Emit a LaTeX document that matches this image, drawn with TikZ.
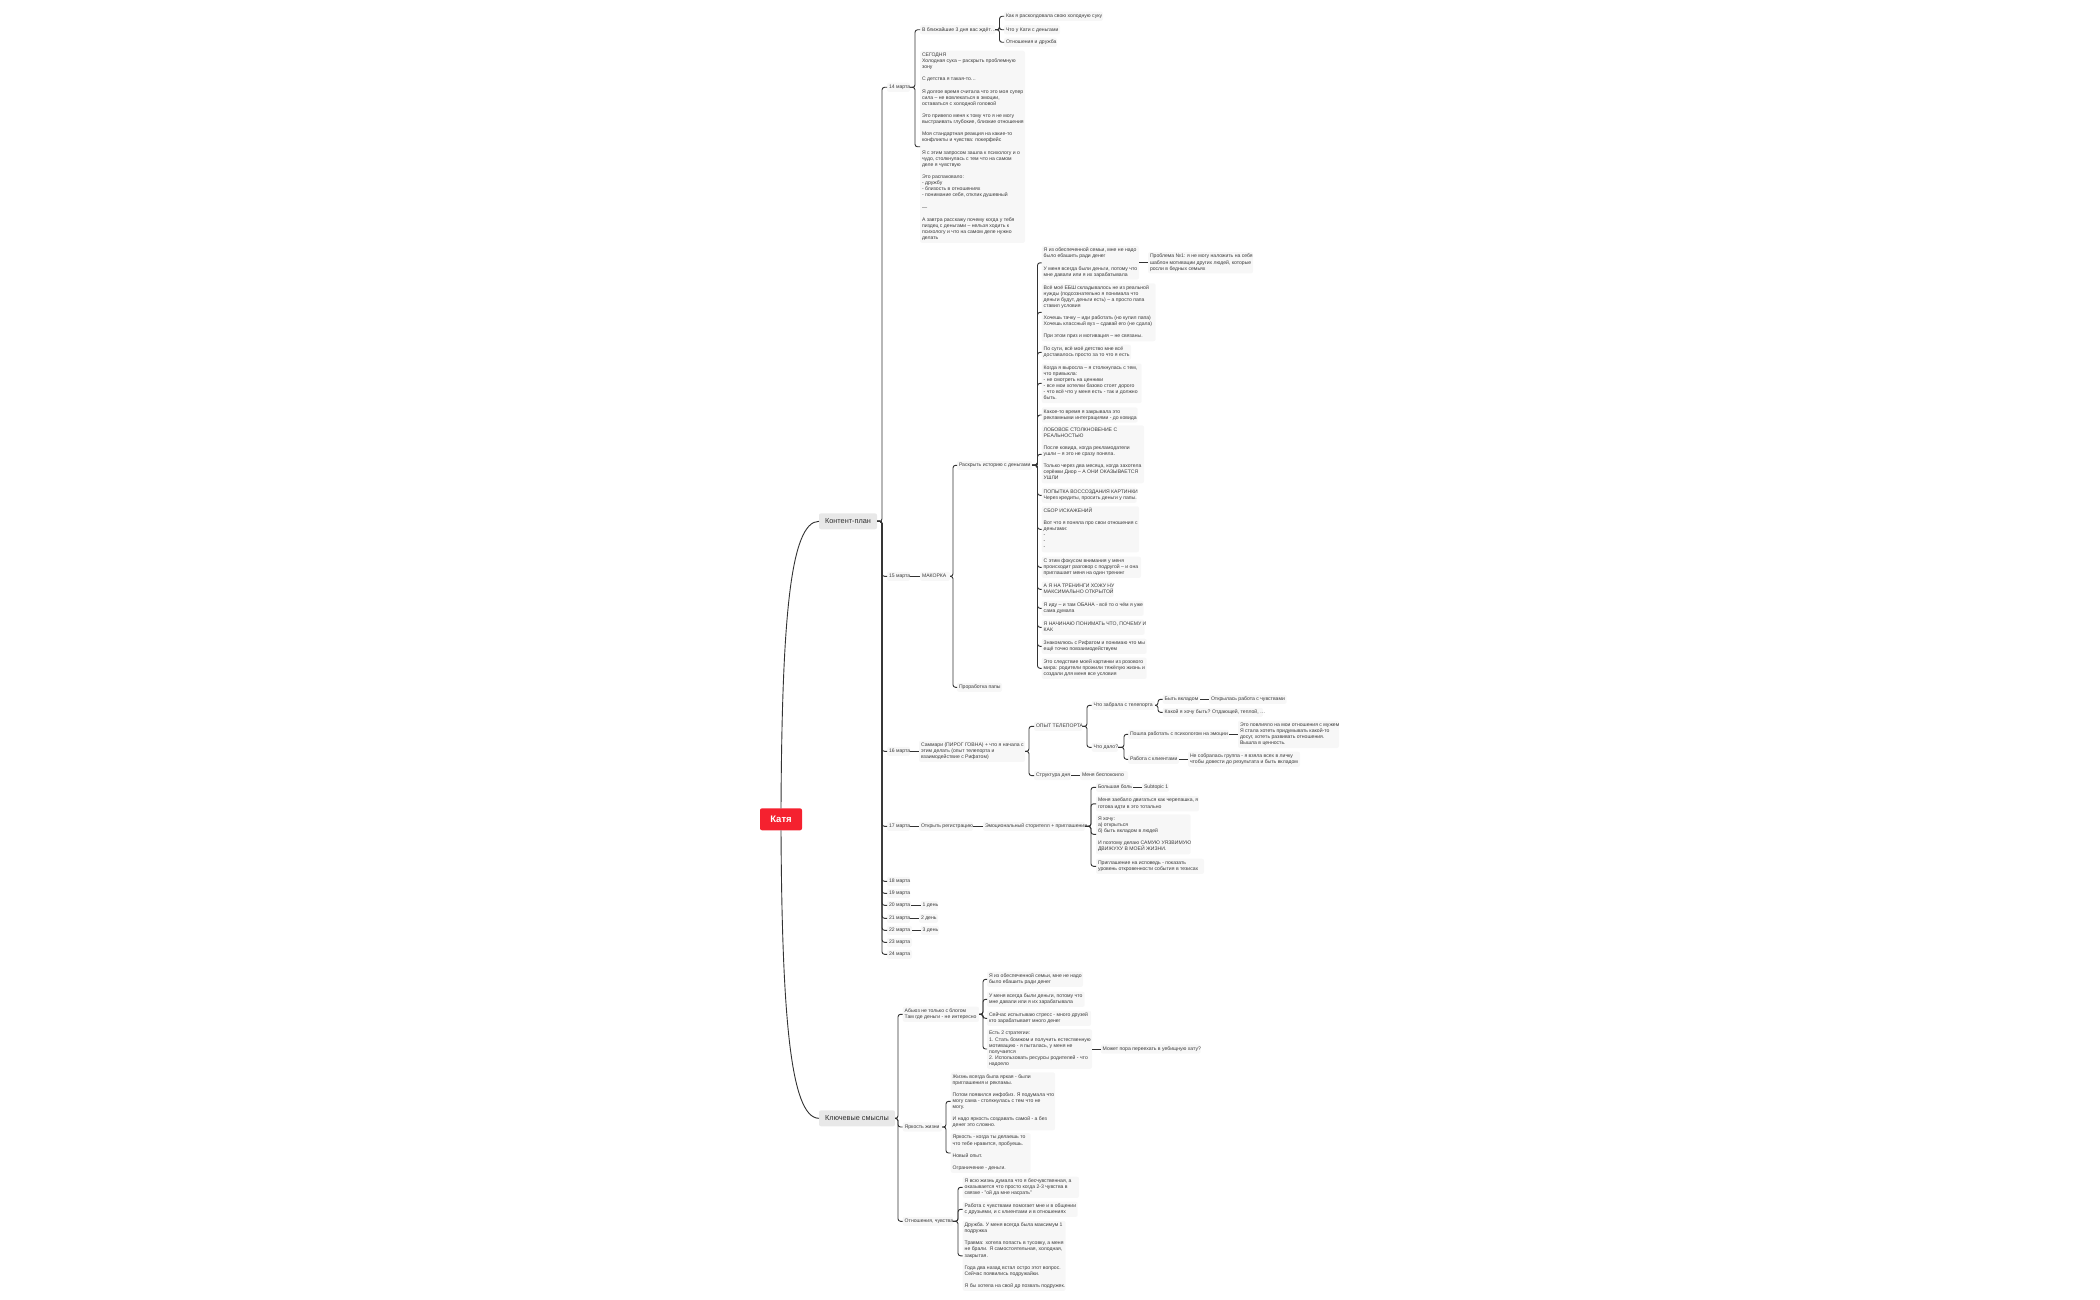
\documentclass[tikz,border=0pt]{standalone}
\usepackage{fontspec}
\setmainfont{Liberation Sans}
\definecolor{boxc}{HTML}{F7F7F7}
\definecolor{topc}{HTML}{E8E8E8}
\definecolor{rootc}{HTML}{F5212F}
\definecolor{linkc}{HTML}{333333}
\definecolor{textc}{HTML}{3A3A3A}
\tikzset{
 nbox/.style={rectangle,rounded corners=2pt,fill=boxc,text=textc,inner xsep=2pt,inner ysep=1.5pt,outer sep=0pt,font=\fontsize{5.1}{6.1}\selectfont},
 topbox/.style={rectangle,rounded corners=2pt,fill=topc,text=textc!80!black,inner sep=0pt,outer sep=0pt,font=\fontsize{7.3}{9}\selectfont,minimum height=16pt,align=center},
 rootbox/.style={rectangle,rounded corners=2pt,fill=rootc,text=white,inner sep=0pt,outer sep=0pt,font=\fontsize{9.5}{11}\selectfont\bfseries,minimum height=22pt,minimum width=42pt},
 link/.style={draw=linkc,line width=.9pt,rounded corners=2.5pt},
 curve/.style={draw=linkc,line width=.9pt}
}
\newcommand{\nd}[5]{\node[nbox,anchor=west] (#1) at (#2,#4) {\makebox[\dimexpr #3pt-#2pt-4pt\relax][l]{\begin{tabular}{@{}l@{}}#5\end{tabular}}};}
\newcommand{\br}[3]{\foreach \cc in {#3} {\draw[link] (#1.east) -- ++(#2,0) |- (\cc.west);}}
\newcommand{\st}[2]{\draw[link] (#1.east) -- (#2.west);}
\begin{document}
\begin{tikzpicture}[x=1pt,y=-1pt]
\useasboundingbox (0,0) rectangle (2100,1300);
\begin{scope}[yshift=-1.3pt]
% root and main
\node[rootbox] (root) at (781,818) {Катя};
\node[topbox,anchor=west,minimum width=58pt] (plan) at (819,520) {Контент-план};
\node[topbox,anchor=west,minimum width=76pt] (sense) at (819,1117) {Ключевые смыслы};
% dates
\nd{d14}{887}{910}{86}{14 марта}
\nd{d15}{887}{910}{575}{15 марта}
\nd{d16}{887}{910}{750}{16 марта}
\nd{d17}{887}{910}{825}{17 марта}
\nd{d18}{887}{910}{880}{18 марта}
\nd{d19}{887}{910}{892}{19 марта}
\nd{d20}{887}{911}{904}{20 марта}
\nd{d21}{887}{910}{917}{21 марта}
\nd{d22}{887}{912}{929}{22 марта}
\nd{d23}{887}{912}{941}{23 марта}
\nd{d24}{887}{912}{953}{24 марта}
% 14
\nd{soon}{920}{995}{28.5}{В ближайшие 3 дня вас ждёт…}
\nd{soona}{1004}{1103}{15}{Как я расколдовала свою холодную суку}
\nd{soonb}{1004}{1060}{28.5}{Что у Кати с деньгами}
\nd{soonc}{1004}{1057}{41}{Отношения и дружба}
\nd{today}{920}{1025}{145.5}{СЕГОДНЯ\\Холодная сука – раскрыть проблемную\\зону\\ \\С детства я такая-то…\\ \\Я долгое время считала что это моя супер\\сила – не вовлекаться в эмоции,\\оставаться с холодной головой\\ \\Это привело меня к тому что я не могу\\выстраивать глубокие, близкие отношения\\ \\Моя стандартная реакция на какие-то\\конфликты и чувства: покерфейс\\ \\Я с этим запросом зашла к психологу и о\\чудо, столкнулась с тем что на самом\\деле я чувствую\\ \\Это распаковало:\\- дружбу\\- близость в отношениях\\- понимание себя, отклик душевный\\ \\—\\ \\А завтра расскажу почему когда у тебя\\пиздец с деньгами – нельзя ходить к\\психологу и что на самом деле нужно\\делать}
% 15
\nd{hook}{920}{950}{575}{МАКОРКА}
\nd{money}{957}{1032}{464}{Раскрыть историю с деньгами}
\nd{papa}{957}{1002}{686}{Проработка папы}
\nd{m1}{1041.7}{1139}{261.5}{Я из обеспеченной семьи, мне не надо\\было ебашить ради денег\\ \\У меня всегда были деньги, потому что\\мне давали или я их зарабатывала}
\nd{m1a}{1148}{1253}{261.5}{Проблема №1: я не могу наложить на себя\\шаблон мотивации других людей, которые\\росли в бедных семьях}
\nd{m2}{1041.7}{1155.7}{311}{Всё моё ЕБШ складывалось не из реальной\\нужды (подсознательно я понимала что\\деньги будут, деньги есть) – а просто папа\\ставил условия\\ \\Хочешь тачку – иди работать (но купил папа)\\Хочешь классный вуз – сдавай его (не сдала)\\ \\При этом приз и мотивация – не связаны.}
\nd{m3}{1041.7}{1131}{351}{По сути, всё моё детство мне всё\\доставалось просто за то что я есть}
\nd{m4}{1041.7}{1141.7}{382}{Когда я выросла – я столкнулась с тем,\\что привыкла:\\- не смотреть на ценники\\- все мои хотелки базово стоят дорого\\- что всё что у меня есть - так и должно\\быть.}
\nd{m5}{1041.7}{1137.7}{413.7}{Какое-то время я закрывала это\\рекламными интеграциями - до ковида}
\nd{m6}{1041.7}{1144}{453}{ЛОБОВОЕ СТОЛКНОВЕНИЕ С\\РЕАЛЬНОСТЬЮ\\ \\После ковида, когда рекламодатели\\ушли – я это не сразу поняла.\\ \\Только через два месяца, когда захотела\\серёжки Диор – А ОНИ ОКАЗЫВАЕТСЯ\\УШЛИ}
\nd{m7}{1041.7}{1136.7}{494}{ПОПЫТКА ВОССОЗДАНИЯ КАРТИНКИ\\Через кредиты, просить деньги у папы.}
\nd{m8}{1041.7}{1139}{528}{СБОР ИСКАЖЕНИЙ\\ \\Вот что я поняла про свои отношения с\\деньгами:\\-\\-\\-}
\nd{m9}{1041.7}{1141}{566}{С этим фокусом внимания у меня\\происходит разговор с подругой – и она\\приглашает меня на один тренинг}
\nd{m10}{1041.7}{1113.7}{588}{А Я НА ТРЕНИНГИ ХОЖУ НУ\\МАКСИМАЛЬНО ОТКРЫТОЙ}
\nd{m11}{1041.7}{1143.7}{607}{Я иду – и там ОБАНА - всё то о чём я уже\\сама думала}
\nd{m12}{1041.7}{1144.7}{626}{Я НАЧИНАЮ ПОНИМАТЬ ЧТО, ПОЧЕМУ И\\КАК}
\nd{m13}{1041.7}{1146.7}{645}{Знакомлюсь с Рифатом и понимаю что мы\\ещё точно повзаимодействуем}
\nd{m14}{1041.7}{1146.7}{667}{Это следствие моей картинки из розового\\мира: родители прожили тяжёлую жизнь и\\создали для меня все условия}
% 16
\nd{sum}{919}{1025}{750}{Саммари (ПИРОГ ГОВНА) + что я начала с\\этим делать (опыт телепорта и\\взаимодействие с Рифатом)}
\nd{tele}{1034}{1082.3}{725}{ОПЫТ ТЕЛЕПОРТА}
\nd{day}{1034}{1071}{774.3}{Структура дня}
\nd{worry}{1080}{1128}{774.3}{Меня беспокоило}
\nd{took}{1091.7}{1155}{704}{Что забрала с телепорта}
\nd{gave}{1091.7}{1118}{746}{Что дало?}
\nd{inv}{1162.7}{1200}{698}{Быть вкладом}
\nd{open}{1209}{1286.7}{698}{Открылась работа с чувствами}
\nd{who}{1162.7}{1263}{711}{Какой я хочу быть? Отдающей, теплой, …}
\nd{psy}{1128}{1229}{733}{Пошла работать с психологом на эмоции}
\nd{cli}{1128}{1179}{758}{Работа с клиентами}
\nd{psya}{1238}{1339}{733}{Это повлияло на мои отношения с мужем\\Я стала хотеть придумывать какой-то\\досуг, хотеть развивать отношения.\\Вышла в ценность.}
\nd{clia}{1188}{1300}{758}{Не собралась группа - я взяла всех в личку\\чтобы довести до результата и быть вкладом}
% 17
\nd{reg}{919}{973}{825}{Открыть регистрацию}
\nd{story}{983}{1085}{825}{Эмоциональный сторителл + приглашения}
\nd{pain}{1096}{1133}{786}{Большая боль}
\nd{subt}{1142}{1169}{786}{Subtopic 1}
\nd{turt}{1096}{1199}{802.5}{Меня заебало двигаться как черепашка, я\\готова идти в это тотально}
\nd{want}{1096}{1190.7}{833}{Я хочу:\\а) открыться\\б) быть вкладом в людей\\ \\И поэтому делаю САМУЮ УЯЗВИМУЮ\\ДВИЖУХУ В МОЕЙ ЖИЗНИ.}
\nd{conf}{1096}{1204}{865}{Приглашение на исповедь - показать\\уровень откровенности события в тезисах}
\nd{d1}{920.7}{938}{904}{1 день}
\nd{d2}{919}{938}{917}{2 день}
\nd{d3}{920.7}{939}{929}{3 день}
% meanings
\nd{ab}{902.7}{979}{1013}{Абьюз не только с блогом\\Там где деньги - не интересно}
\nd{br}{902.7}{942}{1125.7}{Яркость жизни}
\nd{rel}{902.7}{953}{1220}{Отношения, чувства}
\nd{aba}{987}{1083}{978}{Я из обеспеченной семьи, мне не надо\\было ебашить ради денег}
\nd{abb}{987}{1084.7}{998}{У меня всегда были деньги, потому что\\мне давали или я их зарабатывала}
\nd{abc}{987}{1091}{1017}{Сейчас испытываю стресс - много друзей\\кто зарабатывает много денег}
\nd{abd}{987}{1092}{1047.7}{Есть 2 стратегии:\\1. Стать бомжом и получить естественную\\мотивацию - я пыталась, у меня не\\получается\\2. Использовать ресурсы родителей - что\\надоело}
\nd{abe}{1100.7}{1200.7}{1047.7}{Может пора переехать в уебищную хату?}
\nd{bra}{950.7}{1055}{1100}{Жизнь всегда была яркая - были\\приглашения и рекламы.\\ \\Потом появился инфобиз. Я подумала что\\могу сама - столкнулась с тем что не\\могу.\\ \\И надо яркость создавать самой - а без\\денег это сложно.}
\nd{brb}{950.7}{1030.7}{1151.7}{Яркость - когда ты делаешь то\\что тебе нравится, пробуешь.\\ \\Новый опыт.\\ \\Ограничение - деньги.}
\nd{rela}{962.7}{1079}{1186}{Я всю жизнь думала что я бесчувственная, а\\оказывается что просто когда 2-3 чувства в\\связке - "ой да мне насрать"}
\nd{relb}{962.7}{1077.7}{1208}{Работа с чувствами помогает мне и в общении\\с друзьями, и с клиентами и в отношениях}
\nd{relc}{962.7}{1065.7}{1254.5}{Дружба. У меня всегда была максимум 1\\подружка\\ \\Травма: хотела попасть в тусовку, а меня\\не брали. Я самостоятельная, холодная,\\закрытая.\\ \\Года два назад встал остро этот вопрос.\\Сейчас появились подружайки.\\ \\Я бы хотела на свой др позвать подружек.}
% connectors
\draw[curve] (root.north) .. controls (782,620) and (790,520) .. (plan.west);
\draw[curve] (root.south) .. controls (782,1010) and (790,1117) .. (sense.west);
\br{plan}{5}{d14,d15,d16,d17,d18,d19,d20,d21,d22,d23,d24}
\br{d14}{5}{soon,today}
\br{soon}{4.5}{soona,soonb,soonc}
\st{d15}{hook}
\br{hook}{3}{money,papa}
\br{money}{5.5}{m1,m2,m3,m4,m5,m6,m7,m8,m9,m10,m11,m12,m13,m14}
\st{m1}{m1a}
\st{d16}{sum}
\br{sum}{4}{tele,day}
\st{day}{worry}
\br{tele}{4.7}{took,gave}
\br{took}{3}{inv,who}
\st{inv}{open}
\br{gave}{6}{psy,cli}
\st{psy}{psya}
\st{cli}{clia}
\st{d17}{reg}
\st{reg}{story}
\br{story}{6}{pain,turt,want,conf}
\st{pain}{subt}
\st{d20}{d1}
\st{d21}{d2}
\st{d22}{d3}
\br{sense}{3}{ab,br,rel}
\br{ab}{4}{aba,abb,abc,abd}
\st{abd}{abe}
\br{br}{4}{bra,brb}
\br{rel}{5}{rela,relb,relc}
\end{scope}
\end{tikzpicture}
\end{document}
